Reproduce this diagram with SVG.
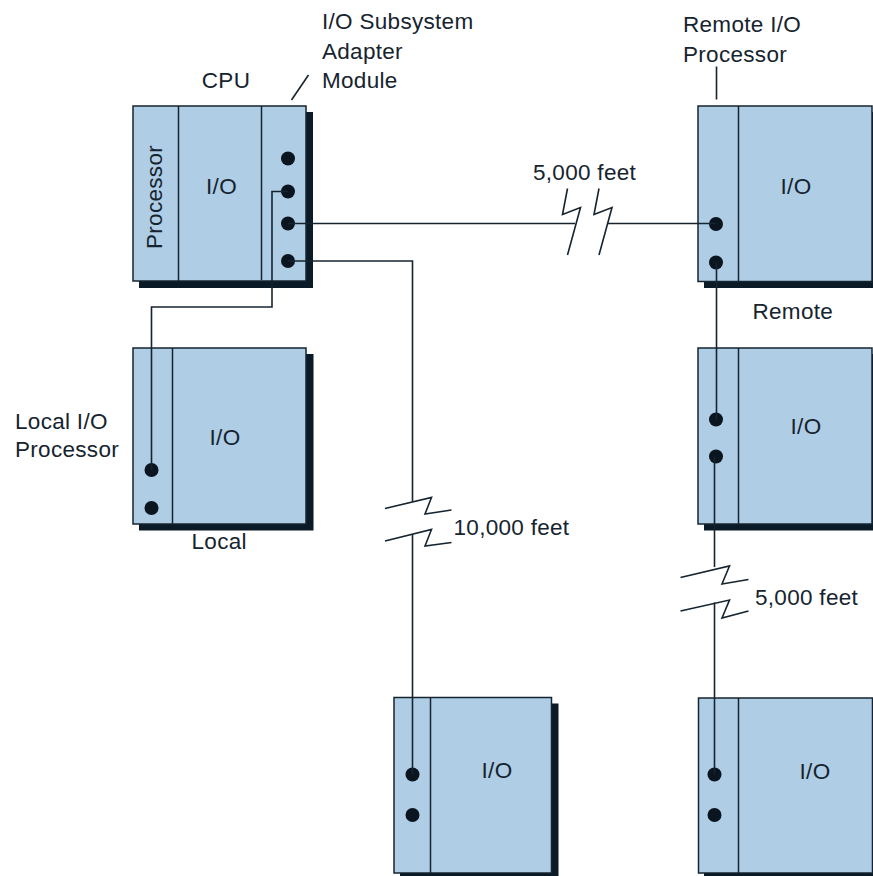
<svg xmlns="http://www.w3.org/2000/svg" width="873" height="876" viewBox="0 0 873 876">
<style>
.box{fill:#AFCDE5;stroke:#16242f;stroke-width:1.5}
.shadow{fill:#0A1A27}
.div{stroke:#16242f;stroke-width:1.5;fill:none}
.dot{fill:#0A1520}
.wire{stroke:#16242f;stroke-width:1.6;fill:none}
.brk{stroke:#16242f;stroke-width:1.6;fill:none;stroke-linejoin:miter}
text{font-family:"Liberation Sans",Arial,sans-serif;font-size:22.5px;fill:#16242f;letter-spacing:0.3px}
.mid{text-anchor:middle}
</style>

<g id="cpu">
  <rect class="shadow" x="139" y="112" width="174" height="176"/>
  <rect class="box" x="133" y="106" width="173" height="175"/>
  <line class="div" x1="178.5" y1="106" x2="178.5" y2="281"/>
  <line class="div" x1="261.5" y1="106" x2="261.5" y2="280"/>
  <circle class="dot" cx="288" cy="158.5" r="7"/>
  <circle class="dot" cx="288" cy="191.5" r="7"/>
  <circle class="dot" cx="288" cy="223.5" r="7"/>
  <circle class="dot" cx="288" cy="261" r="7"/>
  <text class="mid" x="221.5" y="194">I/O</text>
  <text class="mid" transform="translate(161.5,197) rotate(-90)">Processor</text>
  <text class="mid" x="226" y="87.5">CPU</text>
</g>

<g id="adapter-label">
  <text x="322" y="29">I/O Subsystem</text>
  <text x="322" y="59">Adapter</text>
  <text x="322" y="87.5">Module</text>
  <line class="wire" x1="291.5" y1="100" x2="308.5" y2="75"/>
</g>

<g id="remote1">
  <rect class="shadow" x="704" y="112" width="175" height="176"/>
  <rect class="box" x="698" y="106" width="174" height="175.5"/>
  <line class="div" x1="738.5" y1="106" x2="738.5" y2="281.5"/>
  <circle class="dot" cx="716" cy="224" r="7"/>
  <circle class="dot" cx="716" cy="262.5" r="7"/>
  <text class="mid" x="796" y="193.5">I/O</text>
  <text x="683" y="32">Remote I/O</text>
  <text x="683" y="61.5">Processor</text>
  <line class="wire" x1="716.5" y1="66.5" x2="716.5" y2="99.5"/>
  <text x="752.5" y="318.5">Remote</text>
</g>

<g id="local">
  <rect class="shadow" x="139" y="354" width="174.5" height="176.5"/>
  <rect class="box" x="133" y="348" width="173" height="176"/>
  <line class="div" x1="172.5" y1="348" x2="172.5" y2="524"/>
  <circle class="dot" cx="151.5" cy="470" r="7"/>
  <circle class="dot" cx="151.5" cy="508" r="7"/>
  <text class="mid" x="225" y="444.5">I/O</text>
  <text x="15" y="428.5">Local I/O</text>
  <text x="15" y="457">Processor</text>
  <text x="191.5" y="548.5">Local</text>
</g>

<g id="remote2">
  <rect class="shadow" x="704" y="354" width="175" height="176.5"/>
  <rect class="box" x="698" y="348" width="174" height="176"/>
  <line class="div" x1="738.5" y1="348" x2="738.5" y2="524"/>
  <circle class="dot" cx="716" cy="419.5" r="7"/>
  <circle class="dot" cx="716" cy="456.5" r="7"/>
  <text class="mid" x="806" y="434">I/O</text>
</g>

<g id="remote-bottom-left">
  <rect class="shadow" x="400" y="703.5" width="158.5" height="176"/>
  <rect class="box" x="394" y="697.5" width="157.5" height="175.5"/>
  <line class="div" x1="430.5" y1="697.5" x2="430.5" y2="873"/>
  <circle class="dot" cx="412.5" cy="774.5" r="7"/>
  <circle class="dot" cx="412.5" cy="815" r="7"/>
  <text class="mid" x="497" y="777.5">I/O</text>
</g>

<g id="remote3">
  <rect class="shadow" x="704" y="704" width="175" height="176"/>
  <rect class="box" x="698.5" y="698" width="174" height="175"/>
  <line class="div" x1="738.5" y1="698" x2="738.5" y2="873"/>
  <circle class="dot" cx="714.5" cy="774.5" r="7"/>
  <circle class="dot" cx="714.5" cy="815" r="7"/>
  <text class="mid" x="815" y="778.5">I/O</text>
</g>

<g id="connectors">
  <!-- CPU adapter port 2 to local -->
  <path class="wire" d="M288,191.5 H272 V307 H151.5 V470"/>
  <!-- CPU port 3 to remote 1 -->
  <path class="wire" d="M288,223.5 H575"/>
  <path class="wire" d="M608,223.5 H716"/>
  <path class="brk" d="M567.5,188.5 L562.5,214.5 L580.5,207.5 L567.5,255"/>
  <path class="brk" d="M599,188.5 L594,214.5 L612,207.5 L599,255"/>
  <text x="533" y="180">5,000 feet</text>
  <!-- CPU port 4 down to bottom-left -->
  <path class="wire" d="M288,261 H412.5 V501.5"/>
  <path class="wire" d="M412.5,534.5 V774.5"/>
  <path class="brk" d="M385,508.5 L431.5,497.5 L425,514 L451.5,510"/>
  <path class="brk" d="M385,541 L431.5,529.5 L425,546 L451.5,542.5"/>
  <text x="453.5" y="535">10,000 feet</text>
  <!-- remote 1 to remote 2 -->
  <path class="wire" d="M716.5,262.5 V419.5"/>
  <!-- remote 2 to remote 3 -->
  <path class="wire" d="M714.5,456.5 V567"/>
  <path class="wire" d="M714.5,602.5 V774.5"/>
  <path class="brk" d="M680.5,577.5 L729.5,566 L722,584 L748.5,579.5"/>
  <path class="brk" d="M680.5,611 L729.5,600 L722,618 L748.5,611"/>
  <text x="755" y="605">5,000 feet</text>
</g>
</svg>
